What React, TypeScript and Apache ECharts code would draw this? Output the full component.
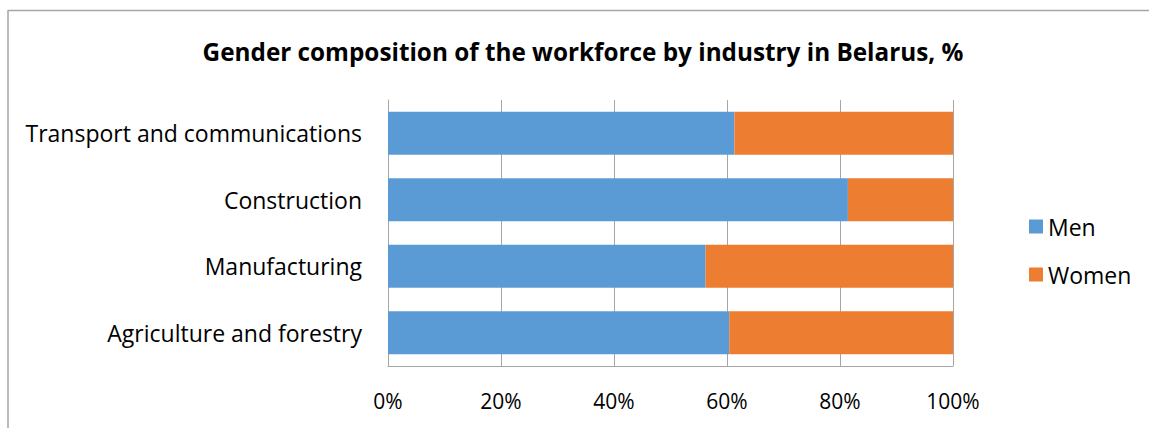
import React, { useEffect, useRef } from "react";
import * as echarts from "echarts";

const categories = [
  "Agriculture and forestry",
  "Manufacturing",
  "Construction",
  "Transport and communications",
];
const men = [60.4, 56.2, 81.4, 61.3];
const women = [39.6, 43.8, 18.6, 38.7];
const xTicks = [0, 20, 40, 60, 80, 100];

const FONT = "Open Sans";

export default function App() {
  const ref = useRef<HTMLDivElement>(null);
  useEffect(() => {
    if (!ref.current) return;
    const chart = echarts.init(ref.current, undefined, { renderer: "svg" });
    chart.setOption({
      animation: false,
      backgroundColor: "#ffffff",
      title: {
        text: "Gender composition of the workforce by industry in Belarus, %",
        left: 578,
        top: 34,
        textAlign: "center",
        textStyle: { fontFamily: FONT, fontWeight: "bold", fontSize: 24.3, color: "#000" },
      },
      legend: {
        orient: "vertical",
        left: 1024,
        top: 210,
        itemWidth: 14,
        itemHeight: 14,
        itemGap: 25,
        icon: "rect",
        textStyle: { fontFamily: FONT, fontSize: 23, color: "#000" },
        data: ["Men", "Women"],
      },
      grid: { left: 388, right: 196, top: 100, bottom: 62, containLabel: false },
      xAxis: {
        type: "value",
        min: 0,
        max: 100,
        interval: 20,
        axisLine: { show: true, lineStyle: { color: "#a6a6a6", width: 1 } },
        axisTick: { show: false },
        splitLine: { show: true, lineStyle: { color: "#a6a6a6", width: 1 } },
        axisLabel: {
          formatter: (v: number) => (xTicks.includes(v) ? v + "%" : ""),
          fontFamily: FONT,
          fontSize: 21,
          color: "#000",
          margin: 24,
        },
      },
      yAxis: {
        type: "category",
        data: categories,
        axisLine: { show: true, lineStyle: { color: "#a6a6a6", width: 1 } },
        axisTick: { show: false },
        axisLabel: { fontFamily: FONT, fontSize: 23, color: "#000", margin: 26 },
      },
      graphic: [
        { type: "line", shape: { x1: 8, y1: 10.5, x2: 1149, y2: 10.5 }, style: { stroke: "#a6a6a6", lineWidth: 1.5 } },
        { type: "line", shape: { x1: 8, y1: 10, x2: 8, y2: 428 }, style: { stroke: "#a6a6a6", lineWidth: 1.5 } },
      ],
      series: [
        {
          name: "Men",
          type: "bar",
          stack: "total",
          data: men,
          barCategoryGap: "35%",
          itemStyle: { color: "#5B9BD5" },
        },
        {
          name: "Women",
          type: "bar",
          stack: "total",
          data: women,
          barCategoryGap: "35%",
          itemStyle: { color: "#ED7D31" },
        },
      ],
    });
    return () => chart.dispose();
  }, []);
  return (
    <div
      ref={ref}
      style={{ position: "fixed", left: 0, top: 0, width: 1149, height: 428 }}
    />
  );
}
